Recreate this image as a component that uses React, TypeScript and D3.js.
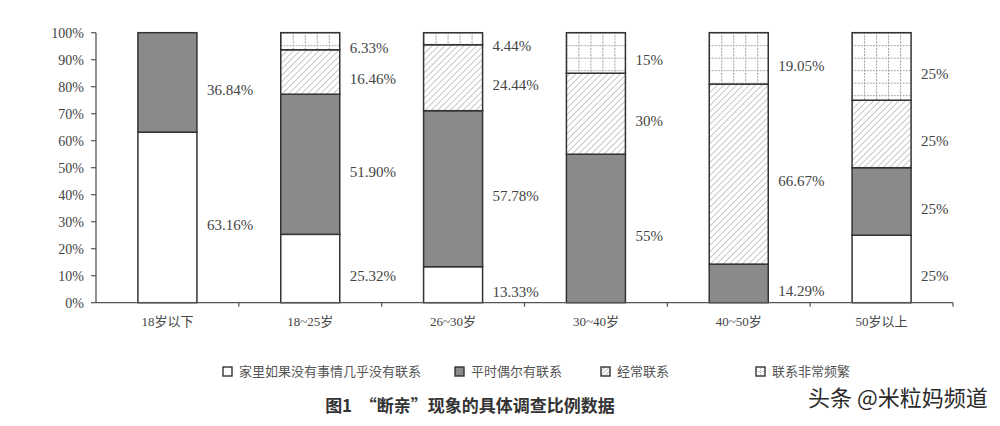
import React from "react";
import * as d3 from "d3";

const categories = ["18岁以下", "18~25岁", "26~30岁", "30~40岁", "40~50岁", "50岁以上"];
const rarely = [63.16, 25.32, 13.33, 0, 0, 25];
const occasional = [36.84, 51.9, 57.78, 55, 14.29, 25];
const often = [0, 16.46, 24.44, 30, 66.67, 25];
const frequent = [0, 6.33, 4.44, 15, 19.05, 25];
const seriesNames = ["家里如果没有事情几乎没有联系", "平时偶尔有联系", "经常联系", "联系非常频繁"];
const yTicks = [0, 10, 20, 30, 40, 50, 60, 70, 80, 90, 100];
const title = "图1  “断亲”现象的具体调查比例数据";
const watermark = "头条 @米粒妈频道";

const W = 1000;
const H = 426;
const serif = "'Liberation Serif', 'Noto Sans CJK SC', serif";
const cjk = "'Noto Sans CJK SC', sans-serif";

const fmt = (v: number) => (Number.isInteger(v) ? `${v}%` : `${v.toFixed(2)}%`);

export default function App() {
  const x = d3.scaleBand<string>().domain(categories).range([96, 953]).padding(0);
  const y = d3.scaleLinear().domain([0, 100]).range([302.7, 32.7]);
  const barW = 59;
  const seriesData = [rarely, occasional, often, frequent];
  const rows = categories.map((c, i) => ({
    cat: c,
    rarely: rarely[i],
    occasional: occasional[i],
    often: often[i],
    frequent: frequent[i],
  }));
  const keys = ["rarely", "occasional", "often", "frequent"];
  const stack = d3.stack<any>().keys(keys)(rows);

  const fills = (k: number, i: number) =>
    k === 0 ? "#ffffff" : k === 1 ? "#8a8a8a" : k === 2 ? "url(#hatch)" : `url(#grid${i})`;

  const legendX = [223, 455, 601, 756];

  return (
    <svg width={W} height={H} style={{ position: "absolute", left: 0, top: 0, background: "#fff" }}>
      <defs>
        <pattern id="hatch" patternUnits="userSpaceOnUse" width={4.5} height={4.5} patternTransform="rotate(45)">
          <rect width={4.5} height={4.5} fill="#fff" />
          <line x1={0} y1={0} x2={0} y2={4.5} stroke="#8f8f8f" strokeWidth={1} />
        </pattern>
        <pattern id="hatchLegend" patternUnits="userSpaceOnUse" width={3} height={3} patternTransform="rotate(45)">
          <rect width={3} height={3} fill="#fff" />
          <line x1={0} y1={0} x2={0} y2={3} stroke="#888" strokeWidth={1} />
        </pattern>
        {categories.map((c, i) => {
          const x0 = (x(c) as number) + x.bandwidth() / 2 - barW / 2;
          return (
            <pattern key={c} id={`grid${i}`} patternUnits="userSpaceOnUse" x={x0} y={y(100)} width={12} height={12.5}>
              <rect width={12} height={12.5} fill="#fff" />
              <line x1={0} y1={0.5} x2={12} y2={0.5} stroke="#8a8a8a" strokeWidth={1} strokeDasharray="1.5,1.5" />
              <line x1={0.5} y1={0} x2={0.5} y2={12.5} stroke="#8a8a8a" strokeWidth={1} strokeDasharray="1.5,1.5" />
            </pattern>
          );
        })}
      </defs>
      <rect width={W} height={H} fill="#fff" />

      {/* bars */}
      {stack.map((layer, k) =>
        layer.map((d, i) => {
          const v = seriesData[k][i];
          if (v <= 0) return null;
          const cx = (x(categories[i]) as number) + x.bandwidth() / 2;
          return (
            <rect
              key={`${k}-${i}`}
              x={cx - barW / 2}
              y={y(d[1])}
              width={barW}
              height={y(d[0]) - y(d[1])}
              fill={fills(k, i)}
              stroke="#333"
              strokeWidth={1.5}
            />
          );
        })
      )}

      {/* value labels */}
      {stack.map((layer, k) =>
        layer.map((d, i) => {
          const v = seriesData[k][i];
          if (v <= 0) return null;
          const cx = (x(categories[i]) as number) + x.bandwidth() / 2;
          return (
            <text
              key={`l${k}-${i}`}
              x={cx + barW / 2 + 10}
              y={y((d[0] + d[1]) / 2) + 7}
              dy="0.35em"
              fontFamily={serif}
              fontSize={15}
              fill="#444"
            >
              {fmt(v)}
            </text>
          );
        })
      )}

      {/* y axis */}
      <line x1={96} x2={96} y1={y(100)} y2={y(0)} stroke="#555" strokeWidth={1.3} />
      {yTicks.map((t) => (
        <g key={t}>
          <line x1={91} x2={96} y1={y(t)} y2={y(t)} stroke="#555" strokeWidth={1.2} />
          <text x={84} y={y(t)} dy="0.35em" textAnchor="end" fontFamily={serif} fontSize={14} fill="#444">
            {t}%
          </text>
        </g>
      ))}

      {/* x axis */}
      <line x1={96} x2={953} y1={y(0)} y2={y(0)} stroke="#555" strokeWidth={1.3} />
      {categories.map((c, i) => (
        <g key={c}>
          <line
            x1={(x(c) as number) + x.bandwidth()}
            x2={(x(c) as number) + x.bandwidth()}
            y1={y(0)}
            y2={y(0) + 4}
            stroke="#555"
            strokeWidth={1.2}
          />
          <text
            x={(x(c) as number) + x.bandwidth() / 2}
            y={y(0) + 19}
            dy="0.35em"
            textAnchor="middle"
            fontFamily={serif}
            fontSize={13}
            fill="#444"
          >
            {c}
          </text>
        </g>
      ))}

      {/* legend */}
      {seriesNames.map((n, k) => (
        <g key={n}>
          <rect
            x={legendX[k]}
            y={367}
            width={9}
            height={9}
            fill={k === 0 ? "#fff" : k === 1 ? "#8a8a8a" : k === 2 ? "url(#hatchLegend)" : "#fff"}
            stroke="#333"
            strokeWidth={1.4}
          />
          {k === 3 && (
            <g stroke="#999" strokeWidth={0.7} strokeDasharray="1,1">
              <line x1={legendX[k] + 4.5} x2={legendX[k] + 4.5} y1={368} y2={375} />
              <line x1={legendX[k] + 1} x2={legendX[k] + 8} y1={371.5} y2={371.5} />
            </g>
          )}
          <text x={legendX[k] + 16} y={371.5} dy="0.35em" fontFamily={cjk} fontSize={13} fill="#555">
            {n}
          </text>
        </g>
      ))}

      {/* title */}
      <text x={470} y={406} dy="0.35em" textAnchor="middle" fontFamily={cjk} fontSize={17} fontWeight="bold" fill="#333" style={{ whiteSpace: "pre" }}>
        {title}
      </text>

      {/* watermark */}
      <text
        x={808}
        y={398}
        dy="0.35em"
        fontFamily={cjk}
        fontSize={22}
        fill="#2a2a2a"
        stroke="#fff"
        strokeWidth={2}
        paintOrder="stroke"
      >
        {watermark}
      </text>
    </svg>
  );
}
